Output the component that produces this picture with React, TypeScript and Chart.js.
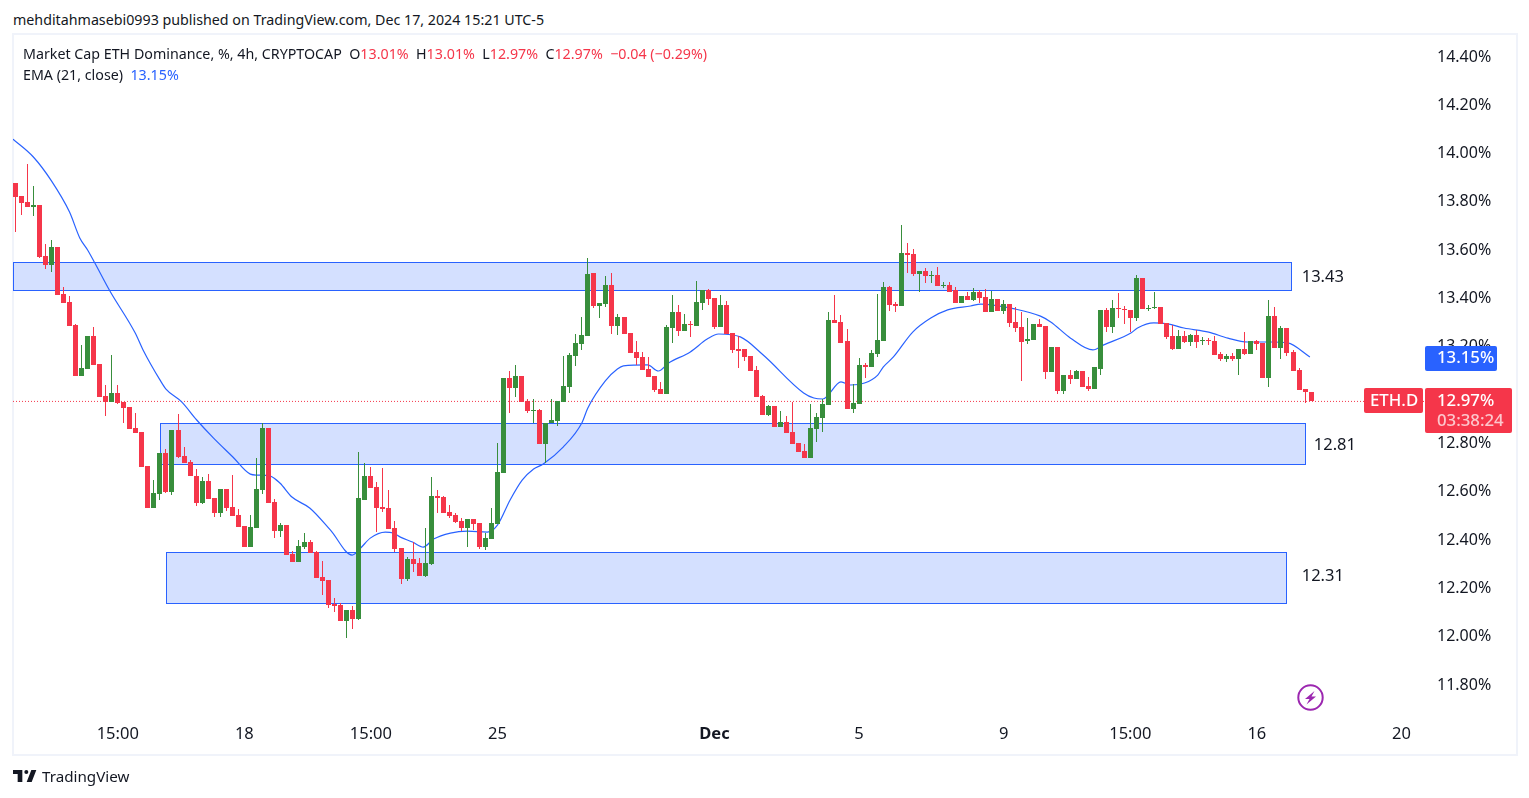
import React, { useEffect, useRef } from "react";
import { Chart, registerables } from "chart.js";

Chart.register(...registerables);

const opens = [13.875,13.820,13.796,13.775,13.783,13.572,13.535,13.609,13.415,13.382,13.287,13.075,13.104,13.241,13.125,12.992,12.968,13.005,12.968,12.947,12.860,12.843,12.702,12.528,12.587,12.756,12.595,12.851,12.744,12.719,12.661,12.549,12.640,12.570,12.508,12.607,12.533,12.499,12.454,12.367,12.446,12.603,12.860,12.553,12.433,12.458,12.338,12.305,12.367,12.388,12.347,12.243,12.230,12.131,12.127,12.061,12.106,12.069,12.562,12.661,12.615,12.533,12.528,12.446,12.363,12.234,12.317,12.301,12.247,12.296,12.578,12.574,12.512,12.499,12.475,12.446,12.483,12.466,12.367,12.400,12.462,12.673,13.067,13.026,13.075,12.972,12.930,12.934,12.793,12.881,12.889,12.968,13.030,13.158,13.208,13.241,13.501,13.365,13.374,13.452,13.283,13.320,13.253,13.175,13.154,13.104,13.075,13.021,13.001,13.274,13.340,13.261,13.291,13.283,13.378,13.431,13.398,13.278,13.369,13.253,13.187,13.187,13.158,13.100,12.992,12.914,12.951,12.864,12.885,12.843,12.798,12.765,12.736,12.855,12.901,12.955,13.307,13.299,13.220,12.938,12.959,13.121,13.112,13.166,13.220,13.444,13.374,13.365,13.585,13.580,13.497,13.510,13.489,13.493,13.448,13.452,13.431,13.378,13.407,13.390,13.423,13.403,13.340,13.394,13.344,13.374,13.299,13.278,13.220,13.224,13.291,13.282,13.092,13.195,13.013,13.079,13.063,13.096,13.034,13.021,13.104,13.349,13.278,13.357,13.353,13.349,13.315,13.481,13.353,13.357,13.361,13.295,13.241,13.187,13.241,13.216,13.245,13.220,13.224,13.220,13.166,13.146,13.158,13.146,13.187,13.166,13.220,13.212,13.067,13.324,13.191,13.274,13.175,13.100,13.021,13.01];
const highs = [13.875,13.820,13.953,13.862,13.783,13.621,13.638,13.609,13.444,13.407,13.291,13.204,13.241,13.278,13.125,13.038,13.162,13.038,12.968,12.947,12.922,12.843,12.702,12.644,12.756,12.773,12.851,12.918,12.781,12.727,12.690,12.657,12.669,12.570,12.607,12.607,12.665,12.524,12.454,12.499,12.736,12.881,12.860,12.566,12.466,12.458,12.351,12.396,12.425,12.396,12.351,12.309,12.230,12.156,12.135,12.106,12.123,12.760,12.715,12.698,12.636,12.694,12.603,12.475,12.363,12.326,12.388,12.322,12.446,12.657,12.603,12.578,12.541,12.508,12.487,12.483,12.483,12.466,12.425,12.528,12.798,13.067,13.096,13.121,13.075,12.980,12.980,12.938,12.881,12.980,12.972,13.158,13.171,13.249,13.320,13.564,13.501,13.378,13.489,13.501,13.332,13.320,13.253,13.220,13.175,13.154,13.075,13.051,13.286,13.411,13.369,13.332,13.303,13.468,13.431,13.435,13.398,13.411,13.386,13.253,13.241,13.187,13.158,13.117,12.997,12.955,12.951,12.930,12.910,12.968,12.798,12.793,12.959,12.922,12.980,13.340,13.411,13.328,13.270,13.042,13.150,13.129,13.183,13.415,13.464,13.448,13.382,13.700,13.626,13.601,13.510,13.522,13.510,13.527,13.464,13.464,13.444,13.407,13.423,13.440,13.431,13.435,13.427,13.394,13.390,13.374,13.361,13.340,13.315,13.291,13.311,13.282,13.195,13.195,13.079,13.100,13.100,13.096,13.071,13.112,13.349,13.357,13.390,13.419,13.365,13.349,13.493,13.481,13.369,13.423,13.361,13.295,13.286,13.266,13.262,13.249,13.266,13.237,13.232,13.241,13.175,13.166,13.171,13.187,13.257,13.220,13.224,13.212,13.390,13.361,13.282,13.274,13.183,13.108,13.021,13.01];
const lows = [13.672,13.742,13.775,13.738,13.564,13.518,13.506,13.411,13.378,13.283,13.075,13.075,13.104,13.121,12.988,12.910,12.968,12.959,12.881,12.855,12.839,12.698,12.528,12.528,12.562,12.591,12.583,12.736,12.715,12.661,12.537,12.545,12.566,12.491,12.491,12.516,12.495,12.450,12.367,12.367,12.446,12.587,12.549,12.404,12.408,12.334,12.305,12.305,12.359,12.343,12.239,12.168,12.115,12.098,12.061,11.990,12.027,12.065,12.562,12.611,12.429,12.512,12.441,12.347,12.214,12.226,12.264,12.247,12.243,12.292,12.508,12.508,12.487,12.466,12.433,12.367,12.437,12.359,12.355,12.400,12.462,12.673,12.922,12.988,12.968,12.922,12.881,12.793,12.715,12.881,12.868,12.968,13.005,13.117,13.183,13.241,13.357,13.315,13.361,13.249,13.245,13.249,13.171,13.121,13.100,13.071,13.009,13.001,13.001,13.212,13.241,13.261,13.237,13.283,13.349,13.369,13.270,13.278,13.249,13.171,13.108,13.137,13.096,12.988,12.914,12.910,12.864,12.864,12.839,12.793,12.760,12.736,12.736,12.802,12.843,12.955,13.295,13.212,12.938,12.922,12.959,13.067,13.112,13.154,13.220,13.344,13.340,13.365,13.502,13.489,13.423,13.460,13.460,13.448,13.440,13.423,13.378,13.378,13.390,13.386,13.378,13.340,13.340,13.344,13.332,13.278,13.257,13.055,13.208,13.224,13.278,13.063,13.092,13.001,13.001,13.042,13.063,13.030,13.013,13.021,13.079,13.257,13.253,13.315,13.291,13.257,13.303,13.353,13.344,13.353,13.291,13.228,13.183,13.187,13.212,13.199,13.191,13.204,13.204,13.162,13.137,13.133,13.137,13.079,13.162,13.166,13.183,13.067,13.030,13.191,13.146,13.158,13.096,13.017,12.963,12.97];
const closes = [13.816,13.792,13.775,13.783,13.568,13.535,13.609,13.411,13.378,13.283,13.075,13.108,13.241,13.121,12.988,12.968,13.005,12.963,12.943,12.855,12.839,12.698,12.528,12.591,12.756,12.595,12.851,12.740,12.715,12.661,12.549,12.640,12.566,12.508,12.607,12.528,12.495,12.450,12.367,12.450,12.607,12.860,12.549,12.433,12.458,12.334,12.305,12.371,12.388,12.343,12.239,12.226,12.127,12.123,12.061,12.106,12.069,12.570,12.661,12.611,12.528,12.524,12.441,12.359,12.234,12.317,12.296,12.247,12.301,12.578,12.570,12.508,12.495,12.470,12.446,12.483,12.462,12.367,12.404,12.466,12.677,13.067,13.026,13.075,12.968,12.930,12.934,12.793,12.881,12.893,12.972,13.034,13.162,13.212,13.245,13.497,13.365,13.378,13.452,13.283,13.320,13.249,13.171,13.150,13.100,13.071,13.017,13.001,13.278,13.340,13.261,13.291,13.287,13.382,13.431,13.394,13.278,13.369,13.249,13.183,13.179,13.154,13.096,12.988,12.914,12.951,12.864,12.885,12.839,12.793,12.760,12.736,12.860,12.905,12.959,13.307,13.295,13.212,12.938,12.963,13.121,13.112,13.171,13.224,13.444,13.369,13.365,13.585,13.576,13.497,13.510,13.489,13.493,13.448,13.452,13.423,13.378,13.407,13.390,13.423,13.398,13.340,13.394,13.344,13.374,13.295,13.274,13.216,13.228,13.291,13.278,13.092,13.195,13.013,13.079,13.063,13.096,13.030,13.021,13.112,13.349,13.278,13.357,13.353,13.349,13.315,13.481,13.353,13.357,13.361,13.291,13.237,13.187,13.241,13.216,13.245,13.216,13.224,13.220,13.162,13.146,13.158,13.146,13.187,13.166,13.220,13.208,13.067,13.324,13.191,13.274,13.171,13.096,13.017,13.009,12.97];

const emaIndex = [-0.38,3,6,9,10.7,12,13.2,15.7,19.9,21.2,24,25,27.6,30.1,32.9,36.1,39,40.1,42.3,43.9,45.9,48.9,52.3,55.9,57.3,58.9,61.4,62.7,63.9,65.9,67.7,69.4,72.2,75,78.3,80,82.1,84.1,86,87.6,90.9,94,95,97.9,99.9,100.9,104.9,106.7,108.4,112,114.8,116.7,120.3,124.1,130.8,132.5,134,137,138.6,140.9,143.1,144,145.7,148.9,151.9,154.7,158.5,160.2,166,170.1,171.8,175.1,178.8,180.6,185.1,186.2,188.9,191.2,193.9,198,201.2,204.5,208.3,211.1,214.8];
const emaValues = [14.056,13.982,13.883,13.754,13.647,13.597,13.543,13.427,13.253,13.183,13.059,13.021,12.968,12.893,12.818,12.740,12.669,12.665,12.661,12.632,12.574,12.528,12.437,12.334,12.363,12.404,12.429,12.425,12.408,12.388,12.367,12.400,12.425,12.433,12.429,12.458,12.562,12.644,12.690,12.711,12.781,12.881,12.943,13.055,13.104,13.117,13.121,13.096,13.129,13.175,13.228,13.249,13.237,13.162,13.005,12.984,12.980,13.051,13.038,13.046,13.079,13.112,13.154,13.257,13.315,13.349,13.365,13.373,13.352,13.323,13.299,13.232,13.183,13.204,13.253,13.274,13.295,13.291,13.274,13.257,13.232,13.216,13.216,13.212,13.154];

const priceTicks = [14.4,14.2,14.0,13.8,13.6,13.4,13.2,13.0,12.8,12.6,12.4,12.2,12.0,11.8];
const timeTickIndex = [17,38,59,80,116,140,164,185,206,230];
const timeTickLabels = ["15:00","18","15:00","25","Dec","5","9","15:00","16","20"];

const zoneStart = [-0.38,24.1,25.1];
const zoneEnd = [211.8,214.05,210.9];
const zoneTop = [13.545,12.878,12.343];
const zoneBottom = [13.429,12.709,12.133];
const zoneLabels = ["13.43","12.81","12.31"];
const zoneLabelIndex = [213.45,215.45,213.45];
const zoneLabelPrice = [13.483,12.787,12.245];

const lastPrice = 12.97;
const emaLast = 13.15;
const countdown = "03:38:24";
const ticker = "ETH.D";

const RED = "#f5364a";
const GREEN = "#388e3c";
const BLUE = "#2962ff";
const INK = "#131722";
const FONT = '"Noto Sans", "Open Sans", sans-serif';

const xMin = -0.38;
const xMax = 233.9;
const yMin = 11.651;
const yMax = 14.487;

const colors = opens.map((o, i) => (closes[i] >= o ? GREEN : RED));

const overlay = {
  id: "overlay",
  afterDatasetsUpdate(chart: any) {
    // snap the bars to whole pixels so that bodies and wicks stay crisp
    chart.data.datasets.forEach((ds: any, di: number) => {
      if (ds.type === "line") return;
      chart.getDatasetMeta(di).data.forEach((el: any) => {
        el.x = Math.floor(el.x) + 0.5;
        el.y = Math.round(el.y);
        el.base = Math.round(el.base);
      });
    });
  },
  beforeDatasetsDraw(chart: any) {
    const { ctx, scales } = chart;
    const { x, y } = scales;
    ctx.save();
    zoneStart.forEach((s, i) => {
      const left = Math.floor(x.getPixelForValue(s)) + 0.5;
      const right = Math.floor(x.getPixelForValue(zoneEnd[i])) + 0.5;
      const top = Math.floor(y.getPixelForValue(zoneTop[i])) + 0.5;
      const bottom = Math.floor(y.getPixelForValue(zoneBottom[i])) + 0.5;
      ctx.fillStyle = "rgba(41,98,255,0.2)";
      ctx.fillRect(left, top, right - left, bottom - top);
      ctx.strokeStyle = BLUE;
      ctx.lineWidth = 1;
      ctx.strokeRect(left, top, right - left, bottom - top);
    });
    ctx.restore();
  },
  afterDraw(chart: any) {
    const { ctx, scales } = chart;
    const { x, y } = scales;
    ctx.save();
    ctx.textBaseline = "middle";
    ctx.textAlign = "left";
    ctx.fillStyle = INK;
    ctx.font = `16.5px ${FONT}`;
    zoneLabels.forEach((t, i) => {
      ctx.fillText(t, x.getPixelForValue(zoneLabelIndex[i]), y.getPixelForValue(zoneLabelPrice[i]));
    });

    const py = Math.round(y.getPixelForValue(lastPrice));
    const ey = Math.round(y.getPixelForValue(emaLast));
    const rr = (l: number, t: number, w: number, h: number) => {
      ctx.beginPath();
      ctx.roundRect(l, t, w, h, 2);
      ctx.fill();
    };
    ctx.fillStyle = BLUE;
    rr(1425, ey - 12, 72, 25);
    ctx.fillStyle = RED;
    rr(1364, py - 13, 59, 25);
    rr(1425, py - 13, 87, 45);

    ctx.font = `500 16.8px ${FONT}`;
    ctx.fillStyle = "#ffffff";
    ctx.fillText(ticker, 1370, py);
    ctx.fillText(`${emaLast.toFixed(2)}%`, 1437, ey);
    ctx.fillText(`${lastPrice.toFixed(2)}%`, 1437, py);
    ctx.fillStyle = "rgba(255,255,255,0.72)";
    ctx.fillText(countdown, 1437, py + 20);
    ctx.restore();
  },
};

const textStyle: React.CSSProperties = {
  position: "absolute",
  fontFamily: FONT,
  fontSize: 14.25,
  lineHeight: "18px",
  whiteSpace: "pre",
  color: INK,
};

function App() {
  const ref = useRef<HTMLCanvasElement>(null);
  useEffect(() => {
    const idx = opens.map((_, i) => i);
    const chart = new Chart(ref.current as HTMLCanvasElement, {
      type: "bar",
      data: {
        datasets: [
          {
            type: "bar",
            label: "Wick",
            data: idx.map((i) => ({ x: i, y: [lows[i], highs[i]] })),
            backgroundColor: colors,
            barThickness: 1,
            inflateAmount: 0,
            grouped: false,
            order: 2,
          },
          {
            type: "bar",
            label: "Body",
            data: idx.map((i) => ({ x: i, y: [opens[i], closes[i]] })),
            backgroundColor: colors,
            barThickness: 5,
            inflateAmount: 0,
            grouped: false,
            order: 1,
          },
          {
            type: "line",
            label: "EMA (21, close)",
            data: emaIndex.map((v, i) => ({ x: v, y: emaValues[i] })),
            borderColor: BLUE,
            borderWidth: 1.2,
            pointRadius: 0,
            cubicInterpolationMode: "monotone",
            order: 3,
          },
          {
            type: "line",
            label: "Last price",
            data: [
              { x: xMin, y: lastPrice },
              { x: xMax, y: lastPrice },
            ],
            borderColor: RED,
            borderWidth: 1,
            borderDash: [1, 2],
            pointRadius: 0,
            order: 4,
          },
        ],
      } as any,
      options: {
        responsive: false,
        animation: false,
        layout: { padding: { left: 13, top: 35, right: 0, bottom: 0 } },
        plugins: { legend: { display: false }, tooltip: { enabled: false } },
        scales: {
          x: {
            type: "linear",
            offset: false,
            min: xMin,
            max: xMax,
            grid: { display: false, drawTicks: false },
            border: { display: false },
            afterBuildTicks: (axis: any) => {
              axis.ticks = timeTickIndex.map((value) => ({ value }));
            },
            afterFit: (axis: any) => {
              axis.height = 78;
            },
            ticks: {
              autoSkip: false,
              maxRotation: 0,
              padding: 4,
              color: INK,
              font: (c: any) => ({
                family: FONT,
                size: 16.5,
                weight: timeTickLabels[timeTickIndex.indexOf(c.tick?.value)] === "Dec" ? "bold" : "normal",
              }),
              callback: (v: any) => timeTickLabels[timeTickIndex.indexOf(v)],
            },
          },
          y: {
            type: "linear",
            position: "right",
            min: yMin,
            max: yMax,
            grid: { display: false, drawTicks: false },
            border: { display: false },
            afterBuildTicks: (axis: any) => {
              axis.ticks = priceTicks.map((value) => ({ value }));
            },
            afterFit: (axis: any) => {
              axis.width = 104;
            },
            ticks: {
              padding: 12,
              labelOffset: 1,
              color: INK,
              font: { family: FONT, size: 16 },
              callback: (v: any) => `${Number(v).toFixed(2)}%`,
            },
          },
        },
      } as any,
      plugins: [overlay],
    });
    return () => chart.destroy();
  }, []);

  const r = { color: RED };
  return (
    <div style={{ position: "fixed", left: 0, top: 0, width: 1529, height: 798, background: "#fff", overflow: "hidden" }}>
      <div style={{ ...textStyle, left: 13, top: 11 }}>mehditahmasebi0993 published on TradingView.com, Dec 17, 2024 15:21 UTC-5</div>
      <div style={{ position: "absolute", left: 12, top: 33, width: 1502, height: 719, border: "2px solid #f0f3fa" }} />
      <canvas ref={ref} width={1529} height={798} style={{ position: "absolute", left: 0, top: 0, display: "block" }} />
      <div style={{ ...textStyle, left: 23, top: 45 }}>
        {"Market Cap ETH Dominance, %, 4h, CRYPTOCAP  O"}
        <span style={r}>13.01%</span>
        {"  H"}
        <span style={r}>13.01%</span>
        {"  L"}
        <span style={r}>12.97%</span>
        {"  C"}
        <span style={r}>12.97%</span>
        {"  "}
        <span style={r}>−0.04 (−0.29%)</span>
      </div>
      <div style={{ ...textStyle, left: 23, top: 66 }}>
        {"EMA (21, close)  "}
        <span style={{ color: BLUE }}>13.15%</span>
      </div>
      <svg style={{ position: "absolute", left: 1297, top: 684 }} width="27" height="27" viewBox="0 0 27 27">
        <circle cx="13.5" cy="13.5" r="12.2" fill="#fff" stroke="#9c27b0" strokeWidth="2" />
        <path d="M17.5 7 L8 15 H12.5 L9.5 20.5 L19 12.5 H14.5 Z" fill="#9c27b0" />
      </svg>
      <svg style={{ position: "absolute", left: 13, top: 770 }} width="24" height="12" viewBox="0 0 36 18">
        <path d="M14 0H0v6h7v12h7V0zM28 18h-7.5L27.5 0H35l-7 18z" fill={INK} />
        <circle cx="20" cy="3" r="3" fill={INK} />
      </svg>
      <div style={{ ...textStyle, left: 42, top: 767, fontSize: 15.2 }}>TradingView</div>
    </div>
  );
}

export default App;
